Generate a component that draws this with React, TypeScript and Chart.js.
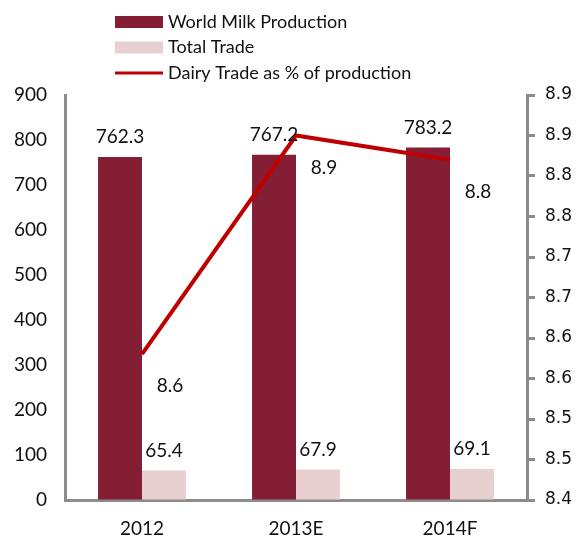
import React, { useEffect, useRef } from "react";
import { Chart, registerables } from "chart.js";

Chart.register(...registerables);

// ---- data ----
const categories = ["2012", "2013E", "2014F"];
const worldMilkProduction = [762.3, 767.2, 783.2];
const totalTrade = [65.4, 67.9, 69.1];
const dairyTradePct = [8.58, 8.85, 8.82];
const seriesNames = ["World Milk Production", "Total Trade", "Dairy Trade as % of production"];

// ---- styles ----
const DARK = "#841e35";
const LIGHT = "#e8d0d1";
const RED = "#c00000";
const AXIS = "#8c8c8c";
const TEXT = "#111111";
const MAIN_FONT = "Lato";
const RIGHT_FONT = "DejaVu Sans";

const round1 = (v: number) => (Math.round(v * 10 + 1e-6) / 10).toFixed(1);

const labelPlugin = {
  id: "valueLabels",
  afterDatasetsDraw(chart: any) {
    const ctx = chart.ctx;
    ctx.save();
    ctx.fillStyle = TEXT;
    ctx.font = `19px ${MAIN_FONT}`;
    ctx.textAlign = "center";
    ctx.textBaseline = "middle";
    [0, 1].forEach((di) => {
      const meta = chart.getDatasetMeta(di);
      const data = chart.data.datasets[di].data as number[];
      meta.data.forEach((el: any, i: number) => {
        ctx.fillText(data[i].toFixed(1), el.x, el.y - 20);
      });
    });
    const lm = chart.getDatasetMeta(2);
    const ld = chart.data.datasets[2].data as number[];
    lm.data.forEach((el: any, i: number) => {
      ctx.fillText(round1(ld[i]), el.x + 28, el.y + 32);
    });
    ctx.restore();
  },
};

const legendPlugin = {
  id: "customLegend",
  afterDraw(chart: any) {
    const ctx = chart.ctx;
    const boxX = 115;
    const boxW = 48;
    const boxH = 12;
    const textX = 168;
    const y0 = 22;
    const step = 25.5;
    ctx.save();
    ctx.font = `18px ${MAIN_FONT}`;
    ctx.textAlign = "left";
    ctx.textBaseline = "middle";
    chart.data.datasets.forEach((ds: any, i: number) => {
      const cy = y0 + i * step;
      if (ds.type === "line") {
        ctx.strokeStyle = ds.borderColor;
        ctx.lineWidth = 3;
        ctx.beginPath();
        ctx.moveTo(boxX, cy);
        ctx.lineTo(boxX + boxW, cy);
        ctx.stroke();
      } else {
        ctx.fillStyle = ds.backgroundColor;
        ctx.fillRect(boxX, cy - boxH / 2, boxW, boxH);
      }
      ctx.fillStyle = TEXT;
      ctx.fillText(ds.label, textX, cy);
    });
    ctx.restore();
  },
};

export default function App() {
  const canvasRef = useRef<HTMLCanvasElement | null>(null);

  useEffect(() => {
    if (!canvasRef.current) return;
    const chart = new Chart(canvasRef.current, {
      type: "bar",
      data: {
        labels: categories,
        datasets: [
          {
            type: "bar",
            label: seriesNames[0],
            data: worldMilkProduction,
            backgroundColor: DARK,
            borderWidth: 0,
            categoryPercentage: 0.571,
            barPercentage: 1,
            yAxisID: "y",
            order: 2,
          } as any,
          {
            type: "bar",
            label: seriesNames[1],
            data: totalTrade,
            backgroundColor: LIGHT,
            borderWidth: 0,
            categoryPercentage: 0.571,
            barPercentage: 1,
            yAxisID: "y",
            order: 2,
          } as any,
          {
            type: "line",
            label: seriesNames[2],
            data: dairyTradePct,
            borderColor: RED,
            backgroundColor: RED,
            borderWidth: 4,
            pointRadius: 0,
            tension: 0,
            yAxisID: "y1",
            order: 1,
          } as any,
        ],
      },
      options: {
        responsive: false,
        animation: false,
        layout: { padding: { top: 95, left: 0, right: 0, bottom: 0 } },
        plugins: {
          legend: { display: false },
          tooltip: { enabled: false },
        },
        scales: {
          x: {
            offset: true,
            grid: { display: true, drawOnChartArea: false, drawTicks: false },
            border: { color: AXIS, width: 3 },
            ticks: { color: TEXT, font: { family: MAIN_FONT, size: 19 }, padding: 17 },
            afterFit: (s: any) => {
              s.height = 36;
            },
          },
          y: {
            position: "left",
            min: 0,
            max: 900,
            ticks: { stepSize: 100, color: TEXT, font: { family: MAIN_FONT, size: 19 }, padding: 18 },
            grid: { display: true, drawOnChartArea: false, drawTicks: false },
            border: { color: AXIS, width: 3 },
            afterFit: (s: any) => {
              s.width = 65;
            },
          },
          y1: {
            position: "right",
            min: 8.4,
            max: 8.9,
            ticks: {
              stepSize: 0.05,
              color: TEXT,
              font: { family: RIGHT_FONT, size: 17 },
              padding: 10,
              callback: (v: any) => round1(Number(v)),
            },
            grid: {
              display: true,
              drawOnChartArea: false,
              drawTicks: true,
              tickLength: 8,
              color: AXIS,
              lineWidth: 3,
            },
            border: { color: AXIS, width: 3 },
            afterFit: (s: any) => {
              s.width = 54;
            },
          },
        },
      } as any,
      plugins: [labelPlugin, legendPlugin],
    });
    return () => chart.destroy();
  }, []);

  return (
    <div style={{ position: "fixed", left: 0, top: 0, width: 581, height: 536, background: "#fff" }}>
      <canvas ref={canvasRef} width={581} height={536} style={{ display: "block" }} />
    </div>
  );
}
